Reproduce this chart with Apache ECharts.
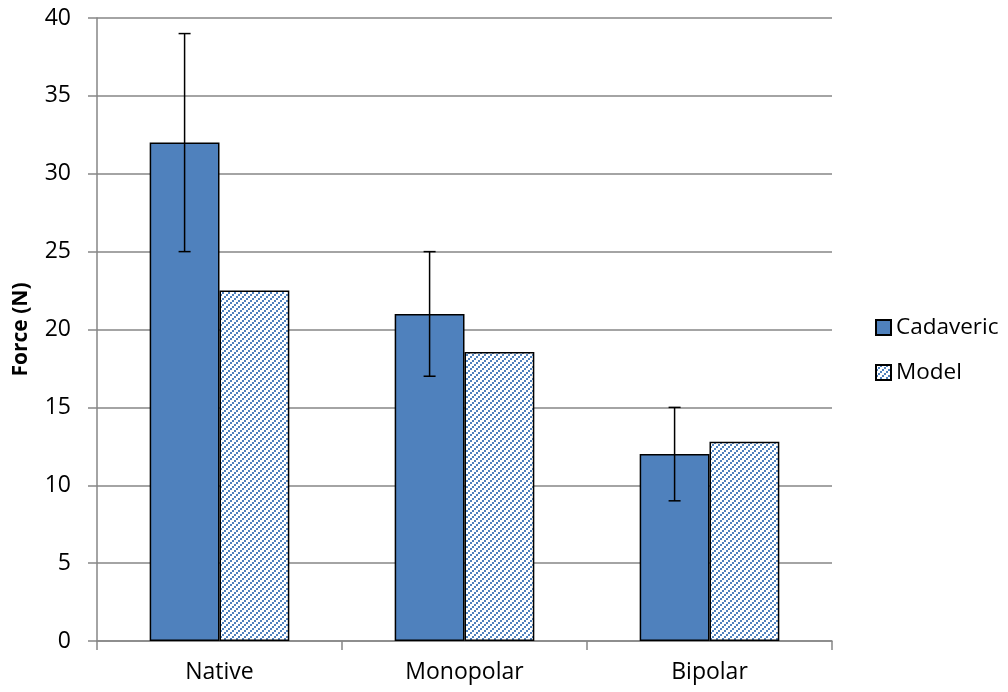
<!DOCTYPE html>
<html><head><meta charset="utf-8">
<script src="https://cdn.jsdelivr.net/npm/echarts@6/dist/echarts.min.js"></script>
<style>html,body{margin:0;padding:0;background:#fff}#c{width:1008px;height:692px}</style>
</head><body><div id="c"></div>
<script>
const categories = ['Native', 'Monopolar', 'Bipolar'];
const cadaveric = [32, 21, 12];
const model = [22.5, 18.55, 12.8];
const errLow = [25, 17, 9];
const errHigh = [39, 25, 15];
const yTicks = [0, 5, 10, 15, 20, 25, 30, 35, 40];

const cv = document.createElement('canvas');
cv.width = 6; cv.height = 6;
const ctx = cv.getContext('2d');
ctx.fillStyle = '#ffffff'; ctx.fillRect(0, 0, 6, 6);
ctx.fillStyle = '#4f81bd';
ctx.fillRect(0, 4, 2, 2);
ctx.fillRect(2, 2, 2, 2);
ctx.fillRect(4, 0, 2, 2);

const chart = echarts.init(document.getElementById('c'));
const font = '"Open Sans", "Liberation Sans", sans-serif';
chart.setOption({
  animation: false,
  grid: { left: 97, right: 176, top: 18, bottom: 51 },
  legend: {
    orient: 'vertical', left: 870, top: 311, itemGap: 22, itemSpacing: 6,
    itemWidth: 15, itemHeight: 15, icon: 'rect',
    textStyle: { fontFamily: font, fontSize: 22.5, color: '#000' },
    data: ['Cadaveric', 'Model']
  },
  xAxis: {
    type: 'category', data: categories,
    axisLine: { lineStyle: { color: '#868686', width: 1.5 } },
    axisTick: { show: true, length: 9, lineStyle: { color: '#868686', width: 1.5 } },
    axisLabel: { fontFamily: font, fontSize: 23, color: '#000', margin: 20 }
  },
  yAxis: {
    type: 'value', min: 0, max: 40, interval: 5,
    name: 'Force (N)', nameLocation: 'middle', nameGap: 65, nameRotate: 90,
    nameTextStyle: { fontFamily: font, fontSize: 21, fontWeight: 'bold', color: '#000' },
    axisLine: { show: true, lineStyle: { color: '#868686', width: 1.5 } },
    axisTick: { show: true, length: 9, lineStyle: { color: '#868686', width: 1.5 } },
    axisLabel: { fontFamily: font, fontSize: 23, color: '#000', margin: 26,
      formatter: v => yTicks.includes(v) ? String(v) : '' },
    splitLine: { lineStyle: { color: '#868686', width: 1.5 } }
  },
  series: [
    { name: 'Cadaveric', type: 'bar', data: cadaveric, barGap: 0, barCategoryGap: '43%',
      itemStyle: { color: '#4f81bd', borderColor: '#000', borderWidth: 1.5 } },
    { name: 'Model', type: 'bar', data: model, barGap: 0, barCategoryGap: '43%',
      itemStyle: { color: { image: cv, repeat: 'repeat' }, borderColor: '#000', borderWidth: 1.5 } },
    { name: 'err', type: 'custom', z: 10,
      data: categories.map((c, i) => [i, errLow[i], errHigh[i]]),
      renderItem: function (params, api) {
        const i = api.value(0);
        const lo = api.coord([i, api.value(1)]);
        const hi = api.coord([i, api.value(2)]);
        const cw = api.size([1, 0])[0];
        const x = lo[0] - cw * 0.57 / 4;
        const cap = 6;
        const st = { stroke: '#000', lineWidth: 1.5 };
        return { type: 'group', children: [
          { type: 'line', shape: { x1: x, y1: lo[1], x2: x, y2: hi[1] }, style: st },
          { type: 'line', shape: { x1: x - cap, y1: lo[1], x2: x + cap, y2: lo[1] }, style: st },
          { type: 'line', shape: { x1: x - cap, y1: hi[1], x2: x + cap, y2: hi[1] }, style: st }
        ]};
      }
    }
  ]
});
</script></body></html>
